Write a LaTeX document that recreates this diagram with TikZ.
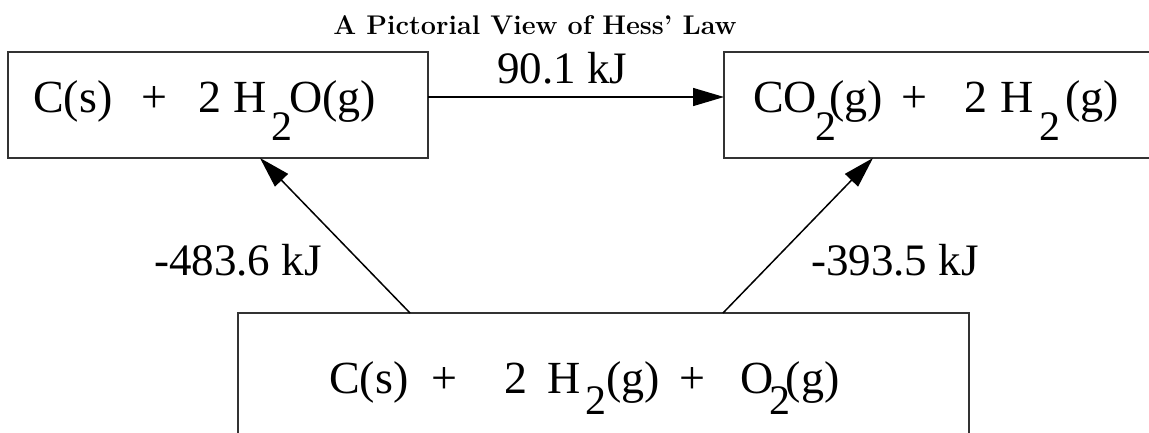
\documentclass[tikz,border=0pt]{standalone}
\usepackage{fontspec}
\newfontfamily\tnr{Liberation Serif}
\usetikzlibrary{arrows.meta}
\newcommand\chemsub[1]{\raisebox{-#1}{\fontsize{42}{42}\selectfont 2}}
\tikzset{
  box/.style={draw=black!80, line width=2pt, inner sep=0pt, outer sep=0pt},
  chem/.style={inner sep=0pt, anchor=base west, font=\tnr\fontsize{46}{46}\selectfont},
  lbl/.style={inner sep=0pt, anchor=base west, font=\tnr\fontsize{45}{45}\selectfont},
  arr/.style={line width=1.5pt, -{Triangle[length=31pt,width=18pt]}},
  ttl/.style={inner sep=0pt, anchor=base, font=\bfseries\fontsize{27}{27}\selectfont}
}
\begin{document}
\begin{tikzpicture}[x=1pt,y=-1pt]
\useasboundingbox (0,0) rectangle (1149,432);
\clip (0,0) rectangle (1149,432);
\node[ttl] (title) at (535,34) {A Pictorial View of Hess' Law};
% boxes
\node[box, minimum width=420pt, minimum height=106pt] (b1) at (218,105) {};
\node[box, minimum width=436pt, minimum height=106pt] (b2) at (942,105) {};
\node[box, minimum width=731pt, minimum height=132pt] (b3) at (603.5,379) {};
% texts
\node[chem] (t1) at (33,112) {C(s)\hspace{29pt}+\hspace{31pt}2\hspace{12.5pt}H\hspace{4pt}\chemsub{28pt}\hspace{-3pt}O(g)};
\node[chem] (t2) at (753,112) {CO\hspace{-2pt}\chemsub{28pt}\hspace{-7pt}(g)\hspace{19pt}+\hspace{37pt}2\hspace{12.5pt}H\hspace{6pt}\chemsub{28pt}\hspace{5pt}(g)};
\node[chem] (t3) at (329,393) {C(s)\hspace{23.5pt}+\hspace{47pt}2\hspace{20pt}H\hspace{4pt}\chemsub{21pt}\hspace{0pt}(g)\hspace{20pt}+\hspace{35pt}O\hspace{-4pt}\chemsub{21pt}\hspace{-5pt}(g)};
% labels
\node[lbl] (l1) at (497,83) {90.1 kJ};
\node[lbl] (l2) at (154,275) {-483.6 kJ};
\node[lbl] (l3) at (811,275) {-393.5 kJ};
% arrows
\coordinate (ya) at (0,97);
\draw[arr] (b1.east |- ya) -- (b2.west |- ya);
\draw[arr] ([xshift=172pt]b3.north west) -- ([xshift=252pt]b1.south west);
\draw[arr] ([xshift=485pt]b3.north west) -- ([xshift=149pt]b2.south west);
\end{tikzpicture}
\end{document}
